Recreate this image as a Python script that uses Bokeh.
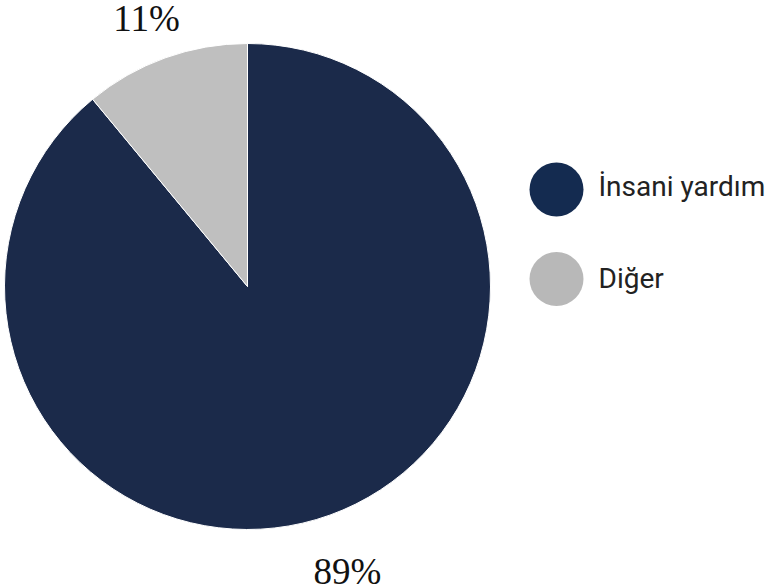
import math
from bokeh.plotting import figure
from bokeh.models import Range1d, ColumnDataSource
from bokeh.core.properties import value
from bokeh.embed import file_html
from bokeh.resources import INLINE

categories = ["İnsani yardım", "Diğer"]
shares = [89, 11]
labels = ["89%", "11%"]
colors = ["#1b2a4a", "#bfbfbf"]
legend_colors = ["#142b50", "#b8b8b8"]

W, H = 767, 588
p = figure(width=W, height=H, output_backend="svg", toolbar_location=None,
           x_range=Range1d(0, W), y_range=Range1d(0, H), min_border=0)
p.axis.visible = False
p.grid.visible = False
p.outline_line_color = None
p.background_fill_color = "white"

cx, cy, r = 247, 302, 243
total = sum(shares)
starts, ends = [], []
a = math.pi / 2
for s in shares:
    starts.append(a)
    a -= s / total * 2 * math.pi
    ends.append(a)

src = ColumnDataSource(dict(start=starts, end=ends, color=colors))
p.wedge(x=cx, y=cy, radius=r, start_angle="start", end_angle="end",
        direction="clock", fill_color="color", line_color="white", line_width=1, source=src)

# percentage labels
p.text(x=[347, 146], y=[17, 570], text=labels, text_font=value("Liberation Serif"),
       text_font_size="37px", text_color="#111111", text_align="center",
       text_baseline="alphabetic")

# legend
p.scatter(x=[556, 556], y=[399, 309.5], size=54, marker="circle",
          fill_color=legend_colors, line_color=None)
p.text(x=[598, 598], y=[402, 310], text=categories, text_font=value("Roboto"),
       text_font_size="28px", text_color="#222222", text_align="left",
       text_baseline="alphabetic")

open("out.html", "w").write(file_html(p, INLINE))
